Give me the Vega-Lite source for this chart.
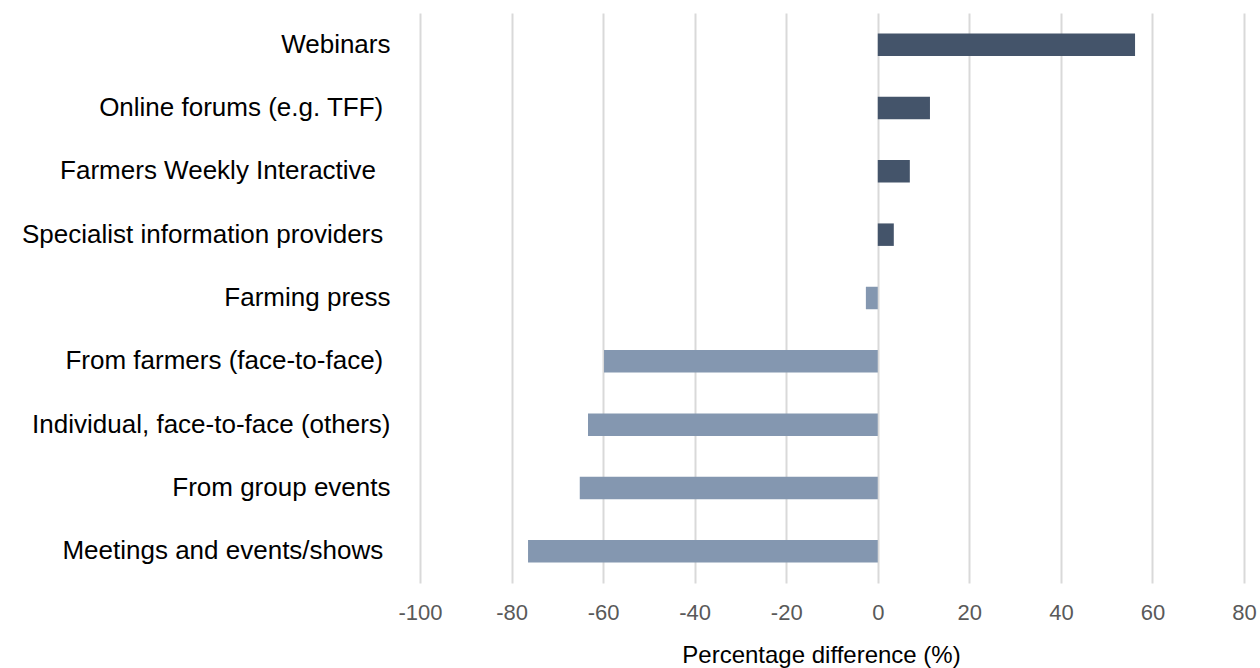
{
  "$schema": "https://vega.github.io/schema/vega-lite/v6.json",
  "width": 824,
  "height": 570,
  "autosize": {"type": "none"},
  "padding": {"left": 420, "top": 13, "right": 16, "bottom": 85},
  "background": "white",
  "config": {"view": {"stroke": null}, "font": "Liberation Sans"},
  "data": {
    "values": [
      {"source": "Webinars", "difference": 56.2},
      {"source": "Online forums (e.g. TFF) ", "difference": 11.4},
      {"source": "Farmers Weekly Interactive  ", "difference": 7.0},
      {"source": "Specialist information providers ", "difference": 3.5},
      {"source": "Farming press", "difference": -2.6},
      {"source": "From farmers (face-to-face) ", "difference": -59.8},
      {"source": "Individual, face-to-face (others)", "difference": -63.3},
      {"source": "From group events", "difference": -65.1},
      {"source": "Meetings and events/shows ", "difference": -76.4}
    ]
  },
  "mark": {"type": "bar"},
  "encoding": {
    "y": {
      "field": "source",
      "type": "nominal",
      "sort": null,
      "scale": {"paddingInner": 0.645, "paddingOuter": 0.3225},
      "axis": {
        "title": null,
        "domain": false,
        "ticks": false,
        "tickSize": 0,
        "labelPadding": 30,
        "labelFontSize": 26,
        "labelColor": "#000000",
        "labelFont": "Liberation Sans",
        "labelLimit": 500,
        "labelExpr": "trim(datum.value) + substring('\u00a0\u00a0\u00a0', 0, length(datum.value) - length(trim(datum.value))) + '\u200b'"
      }
    },
    "x": {
      "field": "difference",
      "type": "quantitative",
      "scale": {"domain": [-100, 80], "nice": false, "zero": false},
      "axis": {
        "title": "Percentage difference (%)",
        "values": [-100, -80, -60, -40, -20, 0, 20, 40, 60, 80],
        "labelExpr": "datum.value < 0 ? '-' + abs(datum.value) : '' + datum.value",
        "domain": false,
        "ticks": false,
        "tickSize": 0,
        "grid": true,
        "gridColor": "#d9d9d9",
        "gridWidth": 2,
        "labelFontSize": 22,
        "labelColor": "#595959",
        "labelFont": "Liberation Sans",
        "labelPadding": 19,
        "labelFlush": false,
        "titleFontSize": 24,
        "titleFontWeight": "normal",
        "titleColor": "#000000",
        "titleFont": "Liberation Sans",
        "titleX": 401,
        "titlePadding": 20
      }
    },
    "color": {
      "condition": {"test": "datum.difference < 0", "value": "#8497B0"},
      "value": "#44546A"
    }
  }
}
